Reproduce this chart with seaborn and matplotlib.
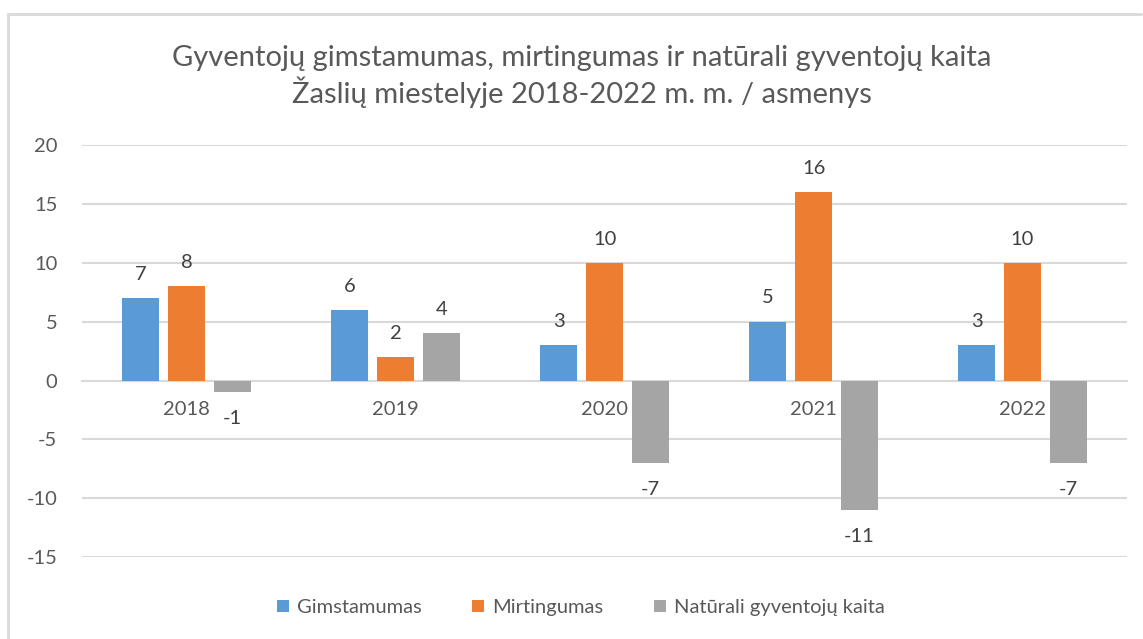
import matplotlib
matplotlib.use("Agg")
import matplotlib.pyplot as plt
import seaborn as sns
import pandas as pd
from matplotlib.lines import Line2D

years = ["2018", "2019", "2020", "2021", "2022"]
series_names = ["Gimstamumas", "Mirtingumas", "Natūrali gyventojų kaita"]
gimstamumas = [7, 6, 3, 5, 3]
mirtingumas = [8, 2, 10, 16, 10]
kaita = [-1, 4, -7, -11, -7]
colors = ["#5B9BD5", "#ED7D31", "#A5A5A5"]
yticks = [-15, -10, -5, 0, 5, 10, 15, 20]
title = "Gyventojų gimstamumas, mirtingumas ir natūrali gyventojų kaita\nŽaslių miestelyje 2018-2022 m. m. / asmenys"

rows = []
for name, vals in zip(series_names, [gimstamumas, mirtingumas, kaita]):
    for y, v in zip(years, vals):
        rows.append({"Metai": y, "Serija": name, "Reikšmė": v})
df = pd.DataFrame(rows)

sns.set_theme(style="white")
plt.rcParams["font.family"] = ["Lato", "DejaVu Sans"]
txt = "#595959"

fig = plt.figure(figsize=(11.43, 6.39), dpi=100)
ax = fig.add_axes([0.072, 0.128, 0.914, 0.645])

sns.barplot(data=df, x="Metai", y="Reikšmė", hue="Serija", order=years,
            hue_order=series_names, palette=colors, width=0.66, gap=0.2,
            saturation=1, ax=ax, zorder=3, legend=True, linewidth=0, edgecolor="none")

ax.set_ylim(-15, 20)
ax.set_xlim(-0.5, 4.5)
ax.set_yticks(yticks)
ax.set_yticklabels([str(t) for t in yticks], fontsize=14.5, color=txt)
ax.grid(axis="y", color="#D9D9D9", linewidth=1.5, zorder=0)
ax.set_axisbelow(True)
for s in ["top", "right", "left"]:
    ax.spines[s].set_visible(False)
ax.spines["bottom"].set_position(("data", 0))
ax.spines["bottom"].set_color("#D9D9D9")
ax.spines["bottom"].set_linewidth(1.5)
ax.tick_params(axis="x", length=0, pad=15, labelsize=14.5, labelcolor=txt)
ax.tick_params(axis="y", length=0, pad=18)
ax.set_xlabel("")
ax.set_ylabel("")

for cont in ax.containers:
    for bar in cont:
        h = bar.get_height()
        x = bar.get_x() + bar.get_width() / 2
        if h >= 0:
            ax.annotate(f"{int(round(h))}", (x, h), xytext=(0, 11), textcoords="offset points",
                        ha="center", va="bottom", fontsize=14.5, color="#404040")
        else:
            ax.annotate(f"{int(round(h))}", (x, h), xytext=(0, -13), textcoords="offset points",
                        ha="center", va="top", fontsize=14.5, color="#404040")

handles, labels = ax.get_legend_handles_labels()
ax.get_legend().remove()
fig.legend(handles, labels, loc="center", bbox_to_anchor=(0.508, 0.049), ncol=3,
           frameon=False, fontsize=14.5, labelcolor=txt, handlelength=0.6, handleheight=0.6,
           handletextpad=0.4, columnspacing=2.5)

fig.text(0.509, 0.88, title, ha="center", va="center", fontsize=21, color=txt, linespacing=1.21)

fig.lines.append(Line2D([0.007, 0.007], [0.0, 0.978], transform=fig.transFigure,
                        color="#D9D9D9", linewidth=2))
fig.lines.append(Line2D([0.007, 0.998], [0.978, 0.978], transform=fig.transFigure,
                        color="#D9D9D9", linewidth=2))

fig.savefig("out.png", dpi=100)
